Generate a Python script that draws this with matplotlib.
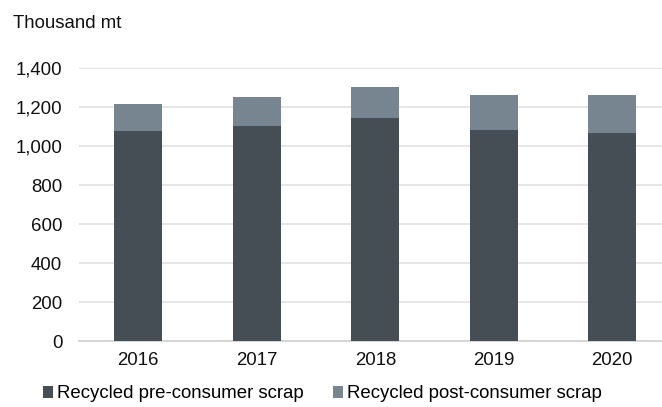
import numpy as np
import matplotlib.pyplot as plt

plt.rcParams['font.family'] = ['Liberation Sans', 'DejaVu Sans']

# Recycled scrap volumes, thousand metric tonnes
years = ["2016", "2017", "2018", "2019", "2020"]
pre_consumer = [1078, 1103, 1144, 1082, 1066]
post_consumer = [141, 152, 159, 180, 196]
yticks = [0, 200, 400, 600, 800, 1000, 1200, 1400]

DARK = "#454d55"
LIGHT = "#76858f"
FS = 13.4

W, H = 662, 407
fig = plt.figure(figsize=(W / 100, H / 100), dpi=100)
# axes runs past the right edge of the figure, like the cropped original
ax = fig.add_axes([79 / W, 1 - 341.3 / H, 592.5 / W, 273 / H])

x = np.arange(len(years))
ax.bar(x, pre_consumer, width=0.405, color=DARK, zorder=3,
       label="Recycled pre-consumer scrap")
ax.bar(x, post_consumer, width=0.405, bottom=pre_consumer, color=LIGHT, zorder=3,
       label="Recycled post-consumer scrap")

ax.set_xlim(-0.5, 4.5)
ax.set_ylim(0, 1400)
ax.set_yticks(yticks)
ax.set_yticklabels([f"{v:,}" for v in yticks])
ax.set_xticks(x)
ax.set_xticklabels(years)
ax.tick_params(axis="both", length=0, labelsize=FS, colors="#111111")
ax.tick_params(axis="y", pad=12)
ax.tick_params(axis="x", pad=8)

ax.grid(axis="y", color="#e2e2e2", linewidth=1.2, zorder=0)
for side in ["top", "right", "left"]:
    ax.spines[side].set_visible(False)
ax.spines["bottom"].set_color("#d6d6d6")
ax.spines["bottom"].set_linewidth(1.5)

fig.text(13 / W, 1 - 24 / H, "Thousand mt", fontsize=FS, va="center", ha="left",
         color="#111111")

fig.legend(loc="center left", bbox_to_anchor=(43 / W, 1 - 394 / H), ncol=2,
           frameon=False, fontsize=FS, handlelength=0.55, handleheight=0.55,
           handletextpad=0.2, columnspacing=1.55, borderaxespad=0, borderpad=0)

fig.savefig("out.png", dpi=100)
